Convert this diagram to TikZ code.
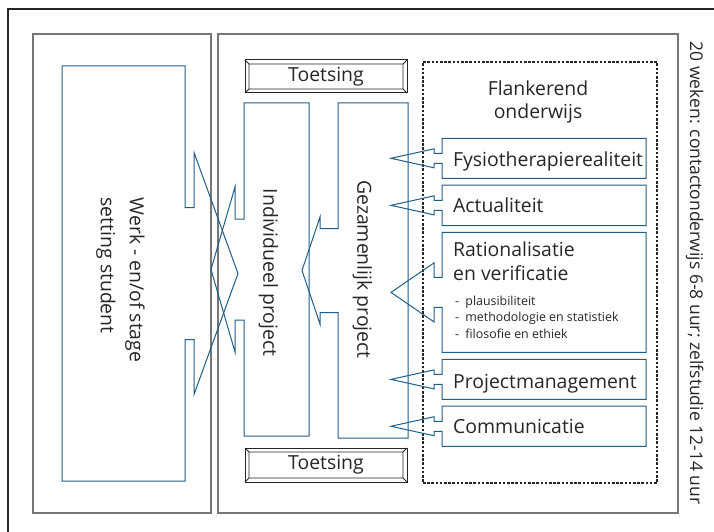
\documentclass[tikz,border=0pt]{standalone}
\usepackage{fontspec}
\setmainfont{Open Sans}
\usetikzlibrary{positioning,calc}
\definecolor{boxblue}{RGB}{32,94,138}
\definecolor{framegray}{RGB}{118,118,118}
\definecolor{inkgray}{RGB}{38,38,38}
\tikzstyle{shell} = [rectangle, inner sep=0pt, outer sep=0pt]
\tikzstyle{graybox} = [shell, draw=framegray, line width=1.1pt]
\tikzstyle{blueline} = [draw=boxblue, line width=1pt, line join=miter]
\tikzstyle{flankbox} = [shell, minimum width=204pt]
\tikzstyle{bigtext} = [inner sep=0pt, text=inkgray, font=\fontsize{19.4}{23.5}\selectfont]
\tikzstyle{smalltext} = [inner sep=0pt, text=inkgray, align=left, font=\fontsize{12.4}{16.5}\selectfont]
\tikzstyle{toetsbox} = [shell, draw=inkgray, line width=1pt, minimum width=162pt, text=inkgray, font=\fontsize{19.4}{23.5}\selectfont]
% box outline with a block arrow pointing left: node, shaft half, shaft length, head half, tip
\newcommand{\leftarrowbox}[5]{%
  \draw[blueline] ($(#1.west)+(0,-#2)$) -- (#1.north west) -- (#1.north east)
    -- (#1.south east) -- (#1.south west) -- ($(#1.west)+(0,#2)$)
    -- ++(-#3,0) -- ++(0,#4-#2) -- ($(#1.west)+(-#5,0)$)
    -- ($(#1.west)+(-#3,-#4)$) -- ++(0,#4-#2) -- cycle;}
% bevelled frame of a toetsing box
\newcommand{\bevel}[1]{%
  \draw[inkgray, line width=0.8pt] ($(#1.north west)+(4,4)$) rectangle ($(#1.south east)+(-4,-4)$)
    (#1.north west) -- ++(4,4) (#1.north east) -- ++(-4,4)
    (#1.south west) -- ++(4,-4) (#1.south east) -- ++(-4,-4);}
\begin{document}
\begin{tikzpicture}[x=1pt, y=-1pt]
\useasboundingbox (0,0) rectangle (714,532);
\draw[inkgray, line width=1.2pt] (8,532) -- (8,9) -- (714,9);
% two large frames
\node[graybox, minimum width=178pt, minimum height=479pt] (praktijk) at (122,273.5) {};
\node[graybox, minimum width=460pt, minimum height=479pt] (school) at (448,273.5) {};
% toetsing
\node[toetsbox, minimum height=33pt] (toetsboven) at (326,76.5) {Toetsing};
\node[toetsbox, minimum height=34pt] (toetsonder) at (326,465) {Toetsing};
\bevel{toetsboven}
\bevel{toetsonder}
% flankerend onderwijs
\node[shell, draw=inkgray, line width=1.1pt, dash pattern=on 2.6pt off 1.6pt,
      minimum width=234pt, minimum height=421pt] (flank) at (540,272.5) {};
\node[bigtext, align=center] (flanktitel) at (538,101.8) {Flankerend\\onderwijs};
\node[flankbox, minimum height=40pt] (fys) at (544,158.3) {};
\node[flankbox, minimum height=40.7pt, below=6.7pt of fys] (act) {};
\node[flankbox, minimum height=120pt, below=6.7pt of act] (rat) {};
\node[flankbox, minimum height=40pt, below=7pt of rat] (pm) {};
\node[flankbox, minimum height=40.3pt, below=6.7pt of pm] (com) {};
\leftarrowbox{fys}{5}{8}{9.5}{51}
\leftarrowbox{act}{5}{8}{9.5}{51}
\leftarrowbox{rat}{15}{8}{29.5}{51}
\leftarrowbox{pm}{5}{8}{9.5}{51}
\leftarrowbox{com}{5}{8}{9.5}{51}
\node[bigtext, anchor=base west] (fystekst) at ($(fys.west)+(11,8.4)$) {Fysiotherapierealiteit};
\node[bigtext, anchor=base west] (acttekst) at ($(act.west)+(11,7)$) {Actualiteit};
\node[bigtext, anchor=west, align=left] (rattekst) at (453,261.1) {Rationalisatie\\en verificatie};
\node[smalltext, anchor=west] (ratpunten) at (455,317) {-\enspace plausibiliteit\\-\enspace methodologie en statistiek\\-\enspace filosofie en ethiek};
\node[bigtext, anchor=base west] (pmtekst) at ($(pm.west)+(11,9)$) {Projectmanagement};
\node[bigtext, anchor=base west] (comtekst) at ($(com.west)+(11,7.3)$) {Communicatie};
% projects
\node[shell, minimum width=65pt, minimum height=333pt] (indiv) at (276.5,269.5) {};
\node[shell, minimum width=70pt, minimum height=335pt] (gezam) at (373,270.5) {};
\leftarrowbox{indiv}{50.5}{9}{82.5}{33}
\leftarrowbox{gezam}{42}{18}{53.5}{36}
\node[bigtext, rotate=-90] (indivtekst) at (268.3,272.5) {Individueel project};
\node[bigtext, rotate=-90] (gezamtekst) at (362.5,269.5) {Gezamenlijk project};
% werk / stage
\node[shell, minimum width=123pt, minimum height=415pt] (werk) at (123.5,273.5) {};
\draw[blueline] ($(werk.east)+(0,-66)$) -- (werk.north east) -- (werk.north west)
  -- (werk.south west) -- (werk.south east) -- ($(werk.east)+(0,66)$)
  -- ++(9,0) -- ++(0,55) -- ($(werk.east)+(53,0)$)
  -- ($(werk.east)+(9,-121)$) -- ++(0,55) -- cycle;
\node[bigtext, rotate=-90, align=left, font=\fontsize{19.4}{29}\selectfont] (werktekst) at (120.5,280) {Werk - en/of stage\\setting student};
% duur
\node[bigtext, rotate=-90, font=\fontsize{17.5}{22}\selectfont] (duur) at (694.7,273) {20 weken: contactonderwijs 6-8 uur; zelfstudie 12-14 uur};
\end{tikzpicture}
\end{document}
